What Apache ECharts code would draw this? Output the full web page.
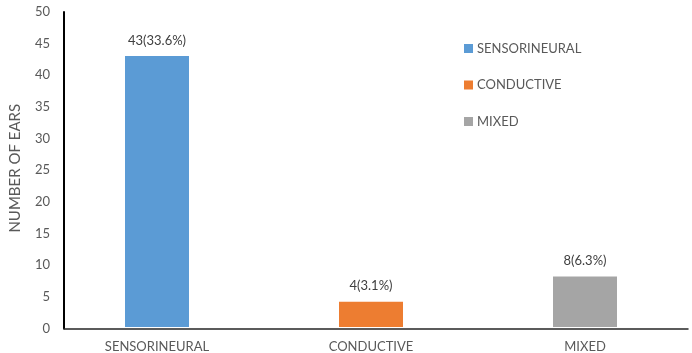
<!DOCTYPE html>
<html><head><meta charset="utf-8">
<script src="https://cdn.jsdelivr.net/npm/echarts@6/dist/echarts.min.js"></script>
<style>html,body{margin:0;padding:0;background:#fff}#c{width:692px;height:353px}</style>
</head><body><div id="c"></div>
<script>
const categories = ['SENSORINEURAL', 'CONDUCTIVE', 'MIXED'];
const values = [43, 4, 8];
const percents = ['33.6%', '3.1%', '6.3%'];
const colors = ['#5B9BD5', '#ED7D31', '#A5A5A5'];
const yTicks = [0, 5, 10, 15, 20, 25, 30, 35, 40, 45, 50];

const FONT = 'Lato';
const yMin = yTicks[0], yMax = yTicks[yTicks.length - 1], yStep = yTicks[1] - yTicks[0];

const series = categories.map((name, i) => ({
  name: name,
  type: 'bar',
  stack: 'all',
  barWidth: 64,
  xAxisIndex: 0, yAxisIndex: 0,
  itemStyle: { color: colors[i] },
  data: categories.map((c, j) => j === i ? values[i] : '-'),
  label: {
    show: true, position: 'top', distance: 9,
    color: '#404040', fontFamily: FONT, fontSize: 13,
    formatter: () => values[i] + '(' + percents[i] + ')'
  }
}));

const chart = echarts.init(document.getElementById('c'), null, { renderer: 'canvas' });
chart.setOption({
  animation: false,
  backgroundColor: '#fff',
  textStyle: { fontFamily: FONT },
  grid: [
    { left: 50, right: -3, top: 12, bottom: 24.5, containLabel: false },
    { left: 56, right: 4, top: 12, bottom: 24.5, containLabel: false }
  ],
  legend: {
    orient: 'vertical', left: 459, top: 37, itemGap: 23.5,
    itemWidth: 9, itemHeight: 9, icon: 'rect',
    textStyle: { color: '#595959', fontFamily: FONT, fontSize: 13, padding: [0, 0, 0, -1] },
    data: categories
  },
  xAxis: [
    {
      gridIndex: 0, type: 'category', data: categories,
      axisLine: { show: false },
      axisTick: { show: false },
      axisLabel: { color: '#595959', fontFamily: FONT, fontSize: 13, margin: 13 }
    },
    {
      gridIndex: 1, type: 'value', min: 0, max: 1,
      axisLine: { show: true, lineStyle: { color: '#262626', width: 1.5 } },
      axisTick: { show: false }, axisLabel: { show: false }, splitLine: { show: false }
    }
  ],
  yAxis: [
    {
      gridIndex: 0, type: 'value', min: yMin, max: yMax, interval: yStep, show: false
    },
    {
      gridIndex: 1, type: 'value', min: yMin, max: yMax, interval: yStep,
      name: 'NUMBER OF EARS', nameLocation: 'middle', nameGap: 41,
      nameTextStyle: { color: '#595959', fontFamily: FONT, fontSize: 15, padding: [0, 0, 0, 4] },
      axisLine: { show: true, lineStyle: { color: '#000', width: 2 } },
      axisTick: { show: false },
      splitLine: { show: false },
      axisLabel: { color: '#595959', fontFamily: FONT, fontSize: 13, margin: 14 }
    }
  ],
  series: series
});
</script></body></html>
